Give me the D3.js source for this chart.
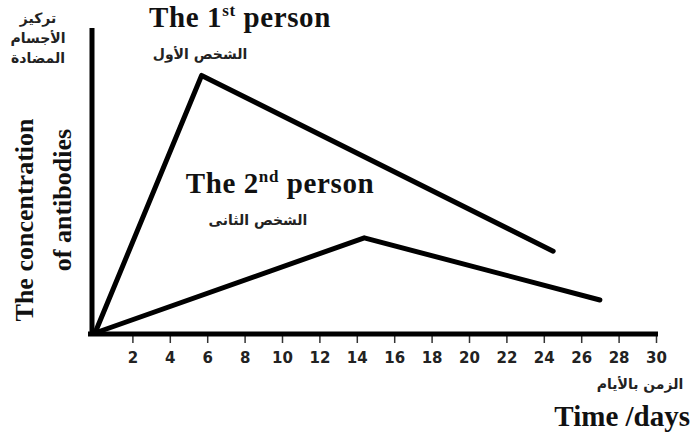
<!DOCTYPE html>
<html>
<head>
<meta charset="utf-8" />
<title>Antibody concentration</title>
<script src="https://d3js.org/d3.v7.min.js"></script>
<style>
  body { margin: 0; background: #fff; }
  .serif { font-family: "Liberation Serif", "Times New Roman", serif; font-weight: bold; fill: #111; }
  .ar { font-family: "DejaVu Sans", sans-serif; font-weight: bold; fill: #222; }
  .tick text { font-family: "DejaVu Sans", Verdana, sans-serif; font-weight: bold; font-size: 15px; fill: #222; }
</style>
</head>
<body>
<div id="chart"></div>
<script>
// chart data
var dayTicks = [2, 4, 6, 8, 10, 12, 14, 16, 18, 20, 22, 24, 26, 28, 30];
var days1 = [0, 5.7, 24.5];
var conc1 = [0, 85, 27];
var days2 = [0, 14.4, 27];
var conc2 = [0, 31.4, 10.9];

var width = 694, height = 441;

var svg = d3.select("#chart")
  .append("svg")
    .attr("width", width)
    .attr("height", height);

var x = d3.scaleLinear().domain([0, 30]).range([95, 656]);
var y = d3.scaleLinear().domain([0, 100]).range([333, 30]);

// ticks and labels
var xAxis = svg.append("g")
  .attr("transform", "translate(0," + y(0) + ")")
  .call(d3.axisBottom(x).tickValues(dayTicks).tickSize(10).tickPadding(9));
xAxis.select(".domain").remove();
xAxis.selectAll(".tick line").attr("stroke", "#333").attr("stroke-width", 1.5);

// axis lines
svg.append("line")
  .attr("x1", x(0) - 7).attr("x2", x(30) + 2)
  .attr("y1", y(0) + 1).attr("y2", y(0) + 1)
  .attr("stroke", "#000").attr("stroke-width", 5);
svg.append("line")
  .attr("x1", x(0) - 3).attr("x2", x(0) - 3)
  .attr("y1", y(100) - 2).attr("y2", y(0) + 3)
  .attr("stroke", "#000").attr("stroke-width", 5);

// the two curves
var line = d3.line()
  .x(function(d) { return x(d[0]); })
  .y(function(d) { return y(d[1]); });

function pts(ds, cs) { return ds.map(function(d, i) { return [d, cs[i]]; }); }

[pts(days1, conc1), pts(days2, conc2)].forEach(function(p) {
  svg.append("path")
    .datum(p)
    .attr("d", line)
    .attr("fill", "none")
    .attr("stroke", "#000")
    .attr("stroke-width", 5)
    .attr("stroke-linejoin", "round")
    .attr("stroke-linecap", "round");
});

// titles for each person
function personLabel(cx, by, num, sup, ar, arx) {
  var t = svg.append("text").attr("class", "serif")
    .attr("x", cx).attr("y", by)
    .attr("text-anchor", "middle")
    .attr("font-size", 29)
    .attr("letter-spacing", 0.6);
  t.append("tspan").text("The " + num);
  t.append("tspan").text(sup).attr("font-size", 17).attr("dy", -11);
  t.append("tspan").text(" person").attr("dy", 11);
  svg.append("text").attr("class", "ar")
    .attr("x", arx).attr("y", by + 32)
    .attr("text-anchor", "middle")
    .attr("font-size", 14)
    .attr("direction", "rtl")
    .text(ar);
}
personLabel(240, 27, "1", "st", "الشخص الأول", 200);
personLabel(280, 193, "2", "nd", "الشخص الثانى", 258);

// y label
["تركيز", "الأجسام", "المضادة"].forEach(function(s, i) {
  svg.append("text").attr("class", "ar")
    .attr("x", 38).attr("y", 23 + i * 20)
    .attr("text-anchor", "middle")
    .attr("font-size", 14)
    .attr("direction", "rtl")
    .text(s);
});
svg.append("text").attr("class", "serif")
  .attr("transform", "translate(33,220) rotate(-90)")
  .attr("text-anchor", "middle")
  .attr("font-size", 26)
  .text("The concentration");
svg.append("text").attr("class", "serif")
  .attr("transform", "translate(71,200) rotate(-90)")
  .attr("text-anchor", "middle")
  .attr("font-size", 26)
  .text("of antibodies");

// x label
svg.append("text").attr("class", "ar")
  .attr("x", 640).attr("y", 389)
  .attr("text-anchor", "middle")
  .attr("font-size", 14)
  .attr("direction", "rtl")
  .text("الزمن بالأيام");
svg.append("text").attr("class", "serif")
  .attr("x", 690).attr("y", 426)
  .attr("text-anchor", "end")
  .attr("font-size", 29)
  .text("Time /days");
</script>
</body>
</html>
